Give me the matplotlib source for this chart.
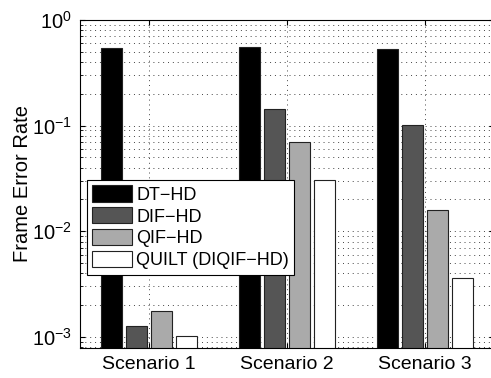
import numpy as np
import matplotlib
matplotlib.use('Agg')
import matplotlib.pyplot as plt

plt.rcParams['font.family'] = ['Liberation Sans', 'DejaVu Sans']
plt.rcParams['mathtext.default'] = 'regular'

scenarios = ['Scenario 1', 'Scenario 2', 'Scenario 3']
methods = ['DT\u2212HD', 'DIF\u2212HD', 'QIF\u2212HD', 'QUILT (DIQIF\u2212HD)']
dt_hd = [0.548, 0.56, 0.536]
dif_hd = [1.28e-3, 0.144, 0.101]
qif_hd = [1.77e-3, 0.0697, 0.0159]
quilt = [1.02e-3, 0.0303, 0.0036]
colors = ['#000000', '#555555', '#aaaaaa', '#ffffff']

fig = plt.figure(figsize=(4.91, 3.78), dpi=100)
ax = fig.add_axes([80 / 491, 30 / 378, 414 / 491, 328 / 378])

x = np.arange(1, 4)
width = 0.152
offsets = [-0.272, -0.0905, 0.0905, 0.272]
series = [dt_hd, dif_hd, qif_hd, quilt]
for vals, off, col, lab in zip(series, offsets, colors, methods):
    ax.bar(x + off, vals, width, color=col, edgecolor='#222222', linewidth=0.8,
           label=lab, zorder=2)

ax.set_yscale('log')
ax.set_ylim(7.85e-4, 1)
ax.set_xlim(0.5, 3.5)
ax.set_xticks(x)
ax.set_xticklabels(scenarios, fontsize=14)
ax.tick_params(axis='y', labelsize=14.5, pad=6)
ax.tick_params(axis='x', pad=6)
ax.tick_params(which='both', direction='in', top=True, right=True)
ax.set_ylabel('Frame Error Rate', fontsize=14.5, labelpad=0)
ax.grid(True, which='both', axis='y', linestyle=(0, (1, 4)), color='#444444', linewidth=0.7, zorder=0)
ax.grid(True, which='major', axis='x', linestyle=(0, (1, 4)), color='#444444', linewidth=0.7, zorder=0)
ax.set_axisbelow(True)

leg = ax.legend(loc='upper left', bbox_to_anchor=(7 / 414, 168 / 328), fontsize=13,
                fancybox=False, edgecolor='black', framealpha=1,
                handlelength=2.2, handleheight=1.0, borderpad=0.3,
                labelspacing=0.2, handletextpad=0.22, borderaxespad=0)
leg.get_frame().set_linewidth(0.8)

fig.savefig('out.png', dpi=100)
